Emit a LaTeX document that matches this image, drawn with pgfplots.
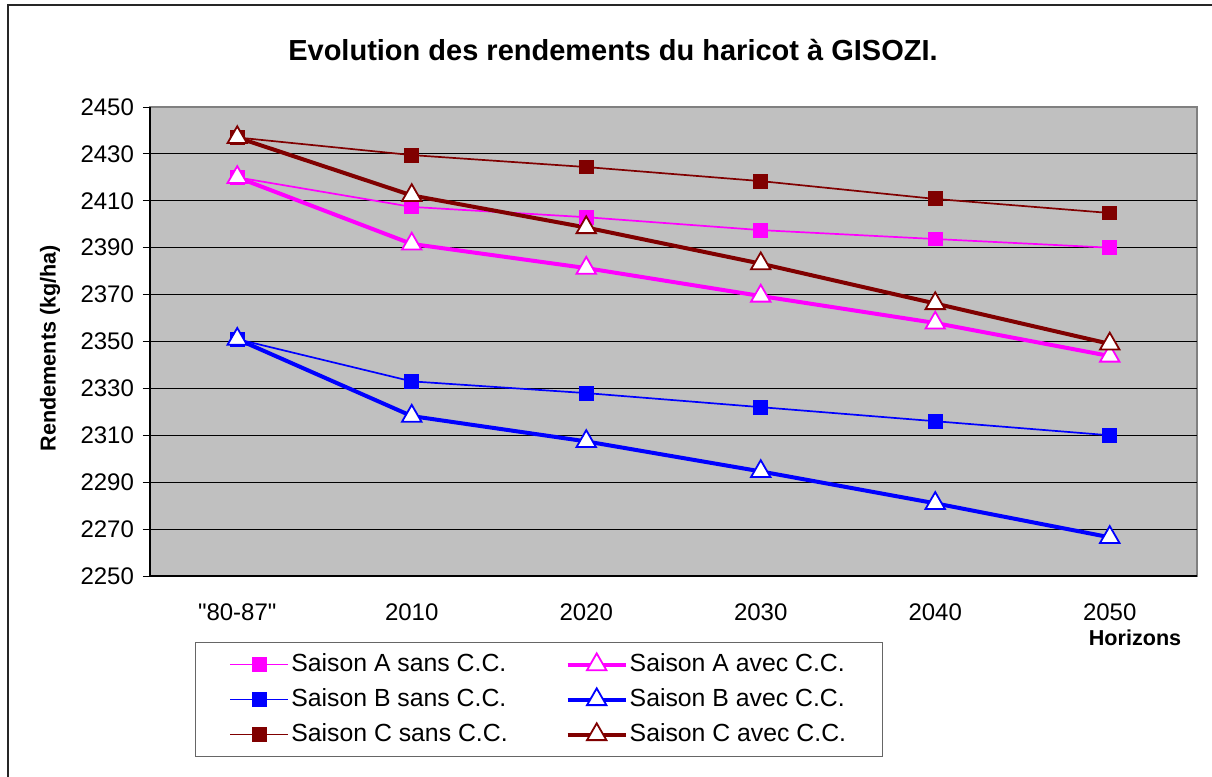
\documentclass[border=0pt]{standalone}
\usepackage{fontspec}
\setmainfont{Liberation Sans}
\newfontfamily\plainfont{Liberation Sans}
\usepackage{pgfplots}
\pgfplotsset{compat=1.18}
\definecolor{cA}{HTML}{FF00FF}
\definecolor{cB}{HTML}{0000FF}
\definecolor{cC}{HTML}{800000}
\definecolor{plotbg}{HTML}{C0C0C0}
\newcommand{\ticklab}{\fontsize{12}{14}\selectfont}
\newcommand{\leglab}{\fontsize{12.4}{14}\selectfont}
\newcommand{\axlab}{\fontsize{10.8}{12}\selectfont\bfseries}
\pgfplotsset{
  sans/.style={line width=0.85pt, mark=square*, mark size=3.3pt, mark options={solid}},
  avec/.style={line width=2pt, mark=triangle*, mark size=5.6pt, mark options={solid, fill=white, line width=0.9pt}},
}

\begin{document}
\begin{tikzpicture}
\useasboundingbox (-75pt,-100.5pt) rectangle (531pt,288pt);
\draw[line width=1pt, black!85] (-71pt,-100.5pt) -- (-71pt,285.5pt) -- (531pt,285.5pt);
\begin{axis}[
  scale only axis,
  width=523.5pt, height=234.5pt,
  xmin=-0.5, xmax=5.5,
  ymin=2250, ymax=2450,
  clip=false,
  axis lines=left,
  axis line style={-, black, line width=0.6pt},
  axis background/.style={fill=plotbg, draw=black!50, line width=0.8pt},
  tick align=outside,
  xtick={0,1,2,3,4,5},
  xticklabels={{\plainfont"80-87"},2010,2020,2030,2040,2050},
  major x tick style={draw=none},
  extra x ticks={-0.5,0.5,1.5,2.5,3.5,4.5,5.5},
  extra x tick labels={},
  extra x tick style={major tick length=4pt, tick style={black, line width=0.5pt}},
  ytick={2250,2270,...,2450},
  major tick length=3.5pt,
  tick style={black, line width=0.5pt},
  extra y ticks={2270,2290,...,2430},
  extra y tick labels={},
  extra y tick style={grid=major},
  grid style={black, line width=0.5pt},
  /pgf/number format/1000 sep={},
  /pgf/number format/assume math mode=true,
  tick label style={font=\ticklab},
  xticklabel style={yshift=-7pt},
  yticklabel style={xshift=-1pt},
  title={\fontsize{14.5}{16}\selectfont\bfseries Evolution des rendements du haricot à GISOZI.},
  title style={at={(axis description cs:0.4422,1.096)}, anchor=center},
  ylabel={\axlab Rendements (kg/ha)},
  every axis y label/.style={at={(axis description cs:-0.0955,0.486)}, rotate=90, anchor=center},
  xlabel={\axlab Horizons},
  every axis x label/.style={at={(axis description cs:0.9408,-0.132)}, anchor=center},
  legend columns=2,
  legend cell align=left,
  legend image code/.code={\draw[mark repeat=2, mark phase=2] plot coordinates {(0pt,0pt) (14.5pt,0pt) (29pt,0pt)};},
  legend style={at={(axis description cs:0.043,-0.1407)}, anchor=north west,
    draw=black!60, line width=0.6pt, fill=white, font=\leglab,
    inner xsep=17pt, inner ysep=4.5pt, row sep=4.5pt,
    /tikz/every even column/.append style={column sep=28pt},
    nodes={inner sep=1pt, text depth=2pt}},
]
\addplot[cA, sans] coordinates {(0,2420) (1,2407.4) (2,2403) (3,2397.5) (4,2393.7) (5,2390)};
\addlegendentry{Saison A sans C.C.}
\addplot[cA, avec] coordinates {(0,2420) (1,2391.6) (2,2381.3) (3,2369.4) (4,2357.9) (5,2343.8)};
\addlegendentry{Saison A avec C.C.}
\addplot[cB, sans] coordinates {(0,2351) (1,2333) (2,2328) (3,2322) (4,2316) (5,2310)};
\addlegendentry{Saison B sans C.C.}
\addplot[cB, avec] coordinates {(0,2351) (1,2318.2) (2,2307.4) (3,2294.6) (4,2281) (5,2266.5)};
\addlegendentry{Saison B avec C.C.}
\addplot[cC, sans] coordinates {(0,2437) (1,2429.5) (2,2424.4) (3,2418.4) (4,2410.8) (5,2404.8)};
\addlegendentry{Saison C sans C.C.}
\addplot[cC, avec] coordinates {(0,2437) (1,2412.3) (2,2398.6) (3,2383.2) (4,2366.2) (5,2349)};
\addlegendentry{Saison C avec C.C.}
\end{axis}
\end{tikzpicture}
\end{document}
